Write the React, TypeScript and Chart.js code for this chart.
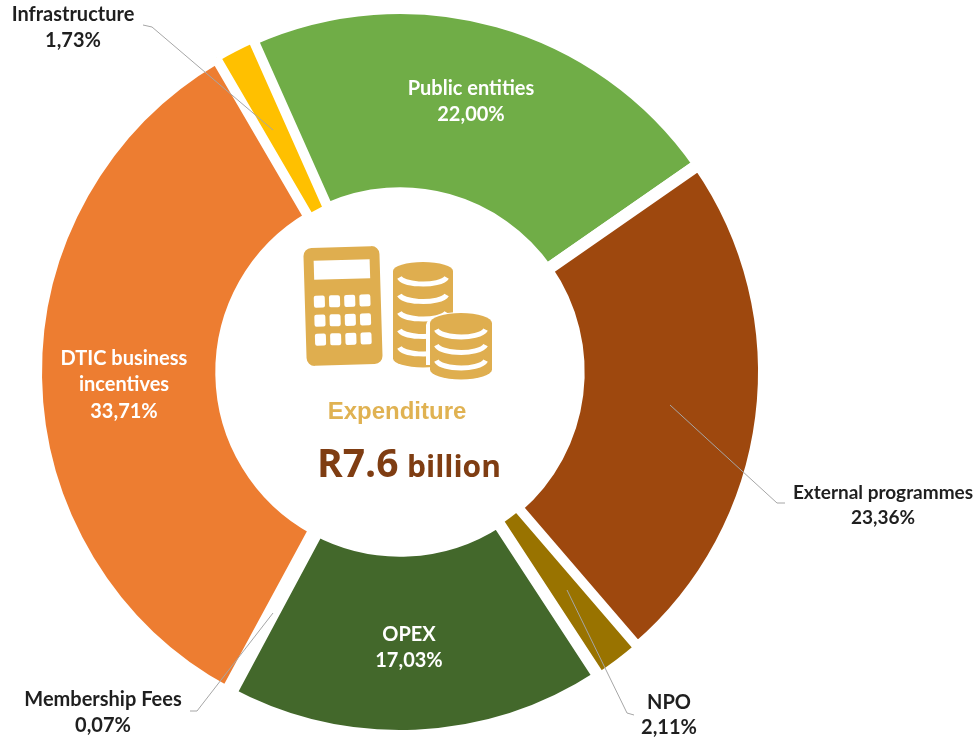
import React, { useEffect, useRef } from "react";
import { Chart, registerables } from "chart.js";

Chart.register(...registerables);

const categories = ["Public entities", "External programmes", "NPO", "OPEX", "Membership Fees", "DTIC business incentives", "Infrastructure"];
const shares = [22.0, 23.36, 2.11, 17.03, 0.07, 33.71, 1.73];
const sliceColors = ["#70AD47", "#9E480E", "#997300", "#43682B", "#264478", "#ED7D31", "#FFC000"];

const centerTitle = "Expenditure";
const centerAmount = "R7.6";
const centerUnit = "billion";

type Callout = { x: number; lines: number[]; color: string; size: number; leader?: number[][] };
const callouts: Callout[] = [
  { x: 471, lines: [89, 115], color: "#ffffff", size: 20 },
  { x: 883, lines: [493, 518], color: "#1f1f1f", size: 19, leader: [[785, 503], [777, 503], [670, 405]] },
  { x: 669, lines: [703, 728], color: "#1f1f1f", size: 20, leader: [[634, 715], [627, 713], [567, 590]] },
  { x: 409, lines: [635, 661], color: "#ffffff", size: 20 },
  { x: 103, lines: [700, 726], color: "#1f1f1f", size: 20, leader: [[190, 711], [197, 711], [273, 613]] },
  { x: 124, lines: [359, 385, 412], color: "#ffffff", size: 20 },
  { x: 73, lines: [15, 41], color: "#1f1f1f", size: 20, leader: [[143, 25], [152, 27], [273, 130]] },
];

const splitName = (name: string, n: number) => {
  if (n === 1) return [name];
  const words = name.split(" ");
  return [words.slice(0, 2).join(" "), words.slice(2).join(" ")];
};

const ICON = "#DFAE4F";

function roundRect(ctx: CanvasRenderingContext2D, x: number, y: number, w: number, h: number, r: number) {
  ctx.beginPath();
  ctx.roundRect(x, y, w, h, r);
}

function coinStack(ctx: CanvasRenderingContext2D, cx: number, top: number, rx: number, ry: number, bands: number, bandH: number) {
  ctx.fillStyle = ICON;
  ctx.beginPath();
  ctx.ellipse(cx, top + ry, rx, ry, 0, Math.PI, 0);
  ctx.lineTo(cx + rx, top + ry + bands * bandH);
  ctx.ellipse(cx, top + ry + bands * bandH, rx, ry, 0, 0, Math.PI);
  ctx.closePath();
  ctx.fill();
  ctx.strokeStyle = "#ffffff";
  ctx.lineWidth = 5;
  for (let i = 0; i < bands; i++) {
    const y = top + ry + i * bandH + 5;
    ctx.beginPath();
    ctx.ellipse(cx, y, rx - 6, ry - 1, 0, 0.18, Math.PI - 0.18);
    ctx.stroke();
  }
}

function drawIcon(ctx: CanvasRenderingContext2D) {
  ctx.save();
  ctx.translate(343, 306);
  ctx.rotate(-0.03);
  ctx.fillStyle = ICON;
  roundRect(ctx, -38, -59, 76, 118, 8);
  ctx.fill();
  ctx.fillStyle = "#ffffff";
  ctx.fillRect(-28, -46, 56, 19);
  for (let r = 0; r < 3; r++) {
    for (let c = 0; c < 4; c++) {
      roundRect(ctx, -29 + c * 15.2, -11 + r * 19, 11, 12, 2);
      ctx.fill();
    }
  }
  ctx.restore();

  coinStack(ctx, 423, 262, 30, 9, 5, 17.5);
  ctx.fillStyle = "#ffffff";
  ctx.beginPath();
  ctx.ellipse(461, 325, 35, 13, 0, 0, Math.PI * 2);
  ctx.fill();
  ctx.fillRect(426, 325, 70, 40);
  coinStack(ctx, 461, 313, 31, 10, 3, 15.5);
}

const overlay = {
  id: "overlay",
  afterDraw(chart: Chart) {
    const ctx = chart.ctx;
    ctx.save();

    ctx.strokeStyle = "#A6A6A6";
    ctx.lineWidth = 1;
    callouts.forEach((c) => {
      if (!c.leader) return;
      ctx.beginPath();
      c.leader.forEach(([x, y], i) => (i ? ctx.lineTo(x, y) : ctx.moveTo(x, y)));
      ctx.stroke();
    });

    ctx.textAlign = "center";
    ctx.textBaseline = "middle";
    callouts.forEach((c, i) => {
      const names = splitName(categories[i], c.lines.length - 1);
      const pct = shares[i].toFixed(2).replace(".", ",") + "%";
      ctx.fillStyle = c.color;
      ctx.font = `bold ${c.size}px Lato`;
      [...names, pct].forEach((t, j) => ctx.fillText(t, c.x, c.lines[j]));
    });

    drawIcon(ctx);

    ctx.fillStyle = "#E0B252";
    ctx.font = "bold 24px 'Liberation Sans'";
    ctx.fillText(centerTitle, 397, 412);

    ctx.textAlign = "left";
    ctx.textBaseline = "alphabetic";
    ctx.fillStyle = "#7F3D12";
    ctx.font = "bold 39px 'Open Sans'";
    ctx.fillText(centerAmount, 317, 477);
    ctx.font = "bold 30px 'Open Sans'";
    ctx.fillText(centerUnit, 407, 477);
    ctx.restore();
  },
};

export default function App() {
  const ref = useRef<HTMLCanvasElement>(null);
  useEffect(() => {
    if (!ref.current) return;
    const chart = new Chart(ref.current, {
      type: "doughnut",
      data: {
        labels: categories,
        datasets: [
          {
            data: shares,
            backgroundColor: sliceColors,
            borderColor: "#ffffff",
            borderWidth: [12, 12, 8, 12, 17, 12, 8],
            borderAlign: "center",
          },
        ],
      },
      options: {
        responsive: false,
        animation: false,
        rotation: -24,
        radius: 364,
        cutout: 176,
        layout: { padding: { left: 0, right: 174, top: 5, bottom: 0 } },
        plugins: { legend: { display: false }, tooltip: { enabled: false } },
      },
      plugins: [overlay],
    } as any);
    return () => chart.destroy();
  }, []);
  return (
    <div style={{ position: "absolute", left: 0, top: 0, width: 974, height: 739, background: "#fff" }}>
      <canvas ref={ref} width={974} height={739} style={{ display: "block" }} />
    </div>
  );
}
